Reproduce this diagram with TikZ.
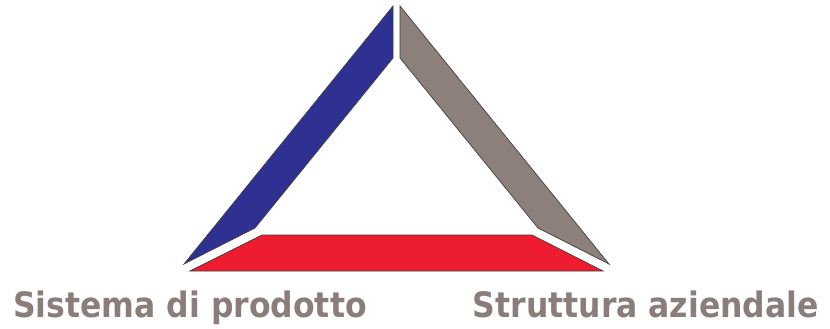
\documentclass[tikz,border=0pt]{standalone}
\usepackage{fontspec}
\setmainfont{DejaVu Sans Condensed}
\usetikzlibrary{positioning,calc}
\definecolor{blusistema}{RGB}{46,49,146}
\definecolor{grigiolato}{RGB}{141,128,123}
\definecolor{rossobase}{RGB}{237,28,46}
\definecolor{grigiotesto}{RGB}{139,126,122}

\begin{document}
	\begin{tikzpicture}[x=1pt, y=-1pt,
		lato/.style={draw=black!75, line width=0.7pt, line join=miter},
		etichetta/.style={text=grigiotesto, inner sep=0pt, font=\bfseries\fontsize{35}{35}\selectfont}]
		\useasboundingbox (0,0) rectangle (830,329);
		% lati del triangolo
		\draw[lato, fill=blusistema] (393,6) -- (393,58) -- (255,228) -- (184,264) -- cycle;
		\draw[lato, fill=grigiolato] (400,6) -- (400,58) -- (538,228) -- (609,264) -- cycle;
		\draw[lato, fill=rossobase] (190,271) -- (262,235) -- (532,235) -- (603,271) -- cycle;
		% etichette
		\node[etichetta, anchor=base west] (prodotto) at (13,317) {Sistema di prodotto};
		\node[etichetta, anchor=base east] (azienda) at (819,317) {Struttura aziendale};
	\end{tikzpicture}
\end{document}
